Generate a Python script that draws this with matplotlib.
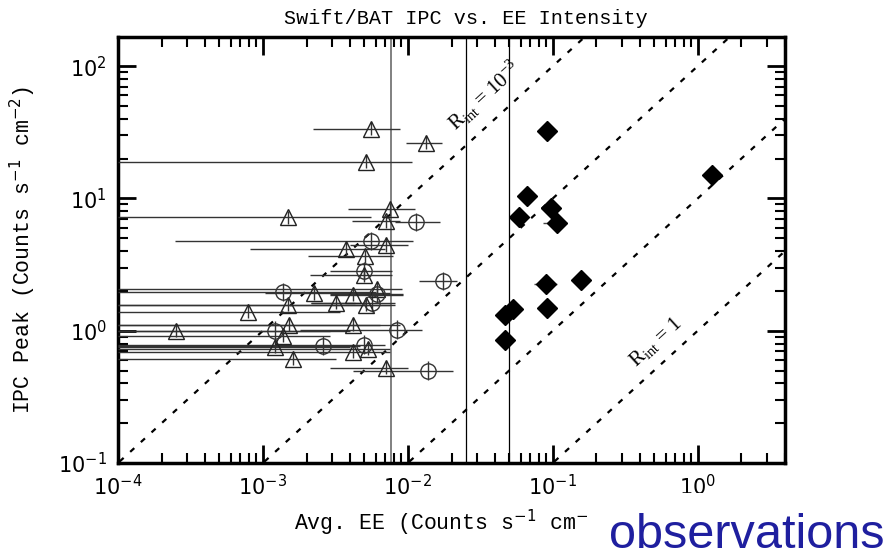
import matplotlib
matplotlib.use('Agg')
import matplotlib.pyplot as plt
import matplotlib.patches as patches
import numpy as np

# open triangles: position and horizontal extent of the error bar
tri_x = [0.00556, 0.00513, 0.0133, 0.00149, 0.00752, 0.00705, 0.00373, 0.00505, 0.00705,
         0.00498, 0.00225, 0.00418, 0.00611, 0.00149, 0.00318, 0.00513, 0.000788, 0.000251,
         0.00151, 0.00418, 0.00137, 0.00121, 0.00161, 0.00418, 0.0053, 0.00705]
tri_y = [33.6, 19.0, 26.4, 7.19, 8.26, 6.71, 4.14, 3.66, 4.44, 2.64, 1.93, 1.87, 2.07,
         1.57, 1.63, 1.57, 1.39, 1.0, 1.11, 1.11, 0.916, 0.759, 0.615, 0.695, 0.733, 0.527]
tri_xlo = [0.00221, 1e-4, 0.00968, 1e-4, 0.00386, 0.00411, 0.000813, 0.00204, 0.00398,
           0.00211, 0.00103, 0.0029, 1e-4, 1e-4, 0.00214, 1e-4, 1e-4, 1e-4,
           1e-4, 1e-4, 1e-4, 1e-4, 1e-4, 1e-4, 1e-4, 0.0029]
tri_xhi = [0.00881, 0.01067, 0.01714, 0.00556, 0.01117, 0.00881, 0.00693, 0.00789, 0.01,
           0.00778, 0.00752, 0.00925, 0.00908, 0.00752, 0.0043, 0.00813, 0.0034, 0.0029,
           0.00641, 0.00881, 0.0029, 0.00398, 0.00318, 0.00752, 0.00752, 0.01]

# open circles
circ_x = [0.00556, 0.00498, 0.00137, 0.00611, 0.00565, 0.00121, 0.0084, 0.0026, 0.00498,
          0.0137, 0.0174, 0.01135]
circ_y = [4.75, 2.83, 1.96, 1.90, 1.63, 1.0, 1.02, 0.771, 0.785, 0.5, 2.38, 6.61]
circ_xlo = [0.000247, 0.0029, 1e-4, 0.0029, 0.00214, 1e-4, 0.0018, 1e-4, 1e-4,
            0.00418, 0.0119, 0.00813]
circ_xhi = [0.0108, 0.00778, 0.006, 0.00925, 0.00813, 0.004, 0.0125, 0.00468, 0.00693,
            0.0204, 0.0218, 0.0166]

# filled diamonds
dia_x = [0.091, 0.066, 0.058, 0.097, 0.107, 0.0895, 0.156, 0.091, 0.053, 0.0467, 0.0467, 1.25]
dia_y = [32.4, 10.5, 7.2, 8.4, 6.5, 2.25, 2.42, 1.49, 1.46, 1.32, 0.855, 15.1]
dia_xlo = [0.091, 0.066, 0.058, 0.097, 0.0853, 0.074, 0.156, 0.091, 0.053, 0.042, 0.0467, 1.25]
dia_xhi = [0.091, 0.066, 0.058, 0.097, 0.125, 0.107, 0.156, 0.091, 0.053, 0.0467, 0.0467, 1.25]

yerr_dex = 0.05          # small vertical bars on open symbols
r_int = [1e-3, 1e-2, 1e-1, 1.0]
vlines = [0.0077, 0.025, 0.05]

mono = 'Liberation Mono'

fig = plt.figure(figsize=(8.86, 5.58), dpi=100)
ax = fig.add_axes([118 / 886, 1 - 463 / 558, 667 / 886, 426 / 558])
ax.set_xscale('log')
ax.set_yscale('log')
ax.set_xlim(1e-4, 4.0)
ax.set_ylim(0.1, 166)

# constant R_int lines
xx = np.array([1e-5, 10.0])
for r in r_int:
    ax.plot(xx, xx / r, color='black', lw=1.6, ls=(0, (2.5, 4)), zorder=1)

ax.axvline(vlines[0], color='#808080', lw=1.4, zorder=1)
ax.axvline(vlines[1], color='black', lw=0.9, zorder=1)
ax.axvline(vlines[2], color='black', lw=0.9, zorder=1)


def err(v, lo, hi):
    v, lo, hi = np.array(v), np.array(lo), np.array(hi)
    return [v - lo, hi - v]


ty = np.array(tri_y)
ax.errorbar(tri_x, tri_y, xerr=err(tri_x, tri_xlo, tri_xhi),
            yerr=[ty - ty / 10 ** yerr_dex, ty * 10 ** yerr_dex - ty],
            fmt='^', ms=12, mfc='none', mec='#222222', mew=1.0,
            ecolor='#333333', elinewidth=1.0, capsize=0, zorder=3)

cy = np.array(circ_y)
ax.errorbar(circ_x, circ_y, xerr=err(circ_x, circ_xlo, circ_xhi),
            yerr=[cy - cy / 10 ** 0.07, cy * 10 ** 0.07 - cy],
            fmt='o', ms=11, mfc='none', mec='#333333', mew=1.0,
            ecolor='#333333', elinewidth=1.0, capsize=0, zorder=3)

ax.errorbar(dia_x, dia_y, xerr=err(dia_x, dia_xlo, dia_xhi),
            fmt='D', ms=10, mfc='black', mec='black',
            ecolor='#444444', elinewidth=1.0, capsize=0, zorder=4)

# line labels
ax.text(0.034, 60, r'R$_{\mathregular{int}}$ = 10$^{\mathregular{-3}}$', rotation=42.5,
        ha='center', va='center', family='Liberation Serif', fontsize=15)
ax.text(0.52, 0.82, r'R$_{\mathregular{int}}$ = 1', rotation=42.5,
        ha='center', va='center', family='Liberation Serif', fontsize=15)

for s in ax.spines.values():
    s.set_linewidth(2.5)
ax.tick_params(which='both', direction='in', top=True, right=True)
ax.tick_params(which='major', length=13, width=2, labelsize=15, pad=8)
ax.tick_params(which='minor', length=7, width=1.5)

ax.set_xlabel('Avg. EE (Counts s$^{-1}$ cm$^{-2}$)', family=mono, fontsize=15.5, labelpad=6)
ax.set_ylabel('IPC Peak (Counts s$^{-1}$ cm$^{-2}$)', family=mono, fontsize=15.5)
ax.yaxis.set_label_coords(-0.12, 0.5)

fig.text(466 / 886, 1 - 18 / 558, 'Swift/BAT IPC vs. EE Intensity', family=mono,
         fontsize=14.5, ha='center', va='center')

# overlay caption covering the corner
fig.patches.append(patches.Rectangle((588 / 886, 0), 1, (558 - 493) / 558,
                                     transform=fig.transFigure, facecolor='white',
                                     edgecolor='none', zorder=5))
fig.text(609 / 886, 1 - 548 / 558, 'observations', family='Liberation Sans',
         fontsize=35, color='#1f1f9f', ha='left', va='baseline', zorder=6)

fig.savefig('out.png', dpi=100)
